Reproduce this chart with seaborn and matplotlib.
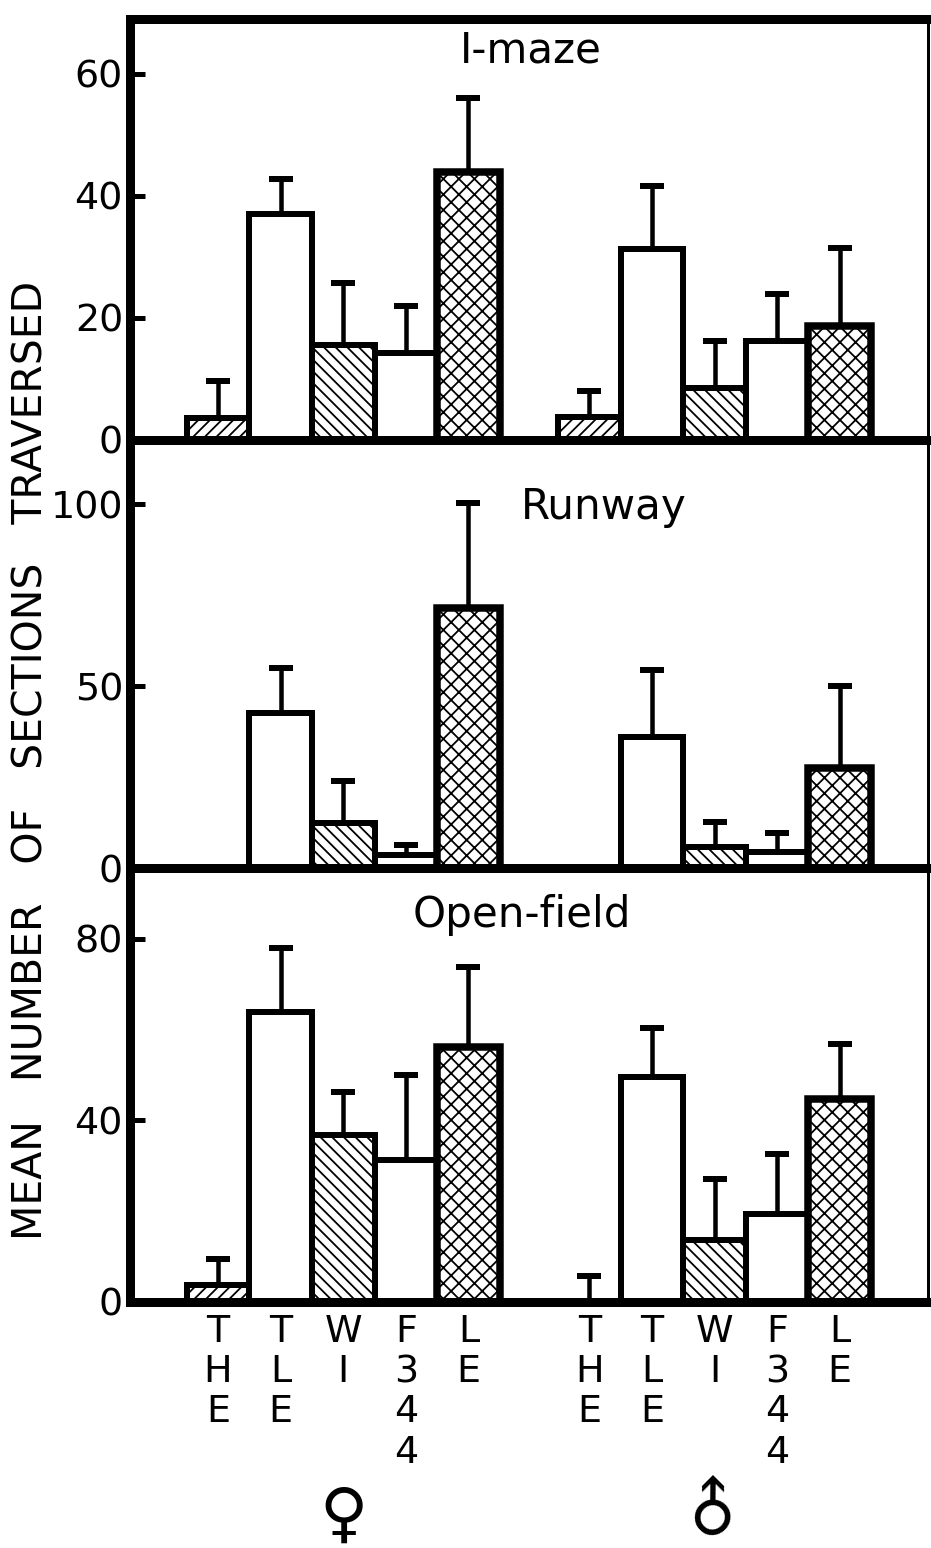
import numpy as np
import pandas as pd
import matplotlib
matplotlib.use("Agg")
import matplotlib.pyplot as plt
import seaborn as sns

# ---- data -------------------------------------------------------------
strains = ["THE", "TLE", "WI", "F344", "LE"]
sexes = ["♀", "♂"]
tests = ["I-maze", "Runway", "Open-field"]

# means and upper error (female strains first, then male strains)
imaze_mean = [3.6, 37.0, 15.6, 14.3, 44.0, 3.8, 31.3, 8.5, 16.2, 18.7]
imaze_err = [6.1, 5.8, 10.1, 7.7, 12.0, 4.2, 10.3, 7.7, 7.8, 12.8]
runway_mean = [0.0, 42.6, 12.4, 3.6, 71.4, 0.0, 36.0, 5.8, 4.4, 27.5]
runway_err = [0.0, 12.4, 11.6, 2.7, 28.9, 0.0, 18.4, 6.8, 5.2, 22.5]
openfield_mean = [3.7, 63.9, 36.8, 31.3, 56.2, 0.0, 49.6, 13.7, 19.4, 44.7]
openfield_err = [5.8, 14.1, 9.5, 18.7, 17.6, 5.7, 10.8, 13.3, 13.2, 12.1]

y_ticks = [[0, 20, 40, 60], [0, 50, 100], [0, 40, 80]]
y_tops = [69.0, 117.6, 95.6]

# ---- styling ----------------------------------------------------------
DPI = 140
W, H = 931, 1548


def px(n):
    """pixels -> points"""
    return n * 72.0 / DPI


sns.set_theme(style="white")
plt.rcParams["font.family"] = ["DejaVu Sans"]
plt.rcParams["hatch.linewidth"] = px(1.8)
plt.rcParams["hatch.color"] = "black"

hatches = {"THE": "////", "TLE": "", "WI": "\\\\\\\\", "F344": "", "LE": "xxx"}
FS = px(38)
TITLE_FS = px(42)

# bar positions: two groups of five adjacent bars
group_gap = 1.93
positions = np.concatenate([np.arange(5), np.arange(5) + 4 + group_gap])

fig = plt.figure(figsize=(W / DPI, H / DPI), dpi=DPI)
gs = fig.add_gridspec(3, 1, left=130 / W, right=928 / W,
                      top=1 - 19 / H, bottom=1 - 1302 / H,
                      height_ratios=[421, 428, 434], hspace=0)

series = [(imaze_mean, imaze_err), (runway_mean, runway_err),
          (openfield_mean, openfield_err)]
title_pos = [(0.502, 0.924), (0.594, 0.843), (0.491, 0.892)]

axes = []
for i, ((means, errs), test) in enumerate(zip(series, tests)):
    ax = fig.add_subplot(gs[i])
    axes.append(ax)
    df = pd.DataFrame({
        "pos": positions,
        "mean": means,
        "err": errs,
        "strain": strains * 2,
        "sex": [sexes[0]] * 5 + [sexes[1]] * 5,
    })
    sns.barplot(data=df, x="pos", y="mean", native_scale=True, width=1.0,
                color="white", saturation=1, edgecolor="black",
                linewidth=px(6), errorbar=None, ax=ax, zorder=1)

    # hatch and outline per strain
    for patch in ax.patches:
        cx = patch.get_x() + patch.get_width() / 2
        k = int(np.argmin(np.abs(positions - cx)))
        s = df["strain"].iloc[k]
        patch.set_hatch(hatches[s])
        if s == "LE":
            patch.set_linewidth(px(7.5))

    # one-sided (upper) error bars
    has_err = df["err"] > 0
    sub = df[has_err]
    ax.errorbar(sub["pos"], sub["mean"],
                yerr=[np.zeros(len(sub)), sub["err"]],
                fmt="none", ecolor="black", elinewidth=px(4.5),
                capsize=px(12), capthick=px(6), zorder=3)

    ax.set_xlim(-1.406, 11.34)
    ax.set_ylim(0, y_tops[i])
    ax.set_yticks(y_ticks[i])
    ax.set_yticklabels([str(t) for t in y_ticks[i]], fontsize=FS)
    ax.tick_params(axis="y", direction="in", length=px(15), width=px(5),
                   pad=px(7), colors="black", left=True)
    ax.set_xlabel("")
    ax.set_ylabel("")

    for side in ["left", "top", "bottom"]:
        ax.spines[side].set_linewidth(px(9))
        ax.spines[side].set_color("black")
    ax.spines["right"].set_linewidth(px(3))
    ax.spines["right"].set_color("black")

    tx, ty = title_pos[i]
    ax.text(tx, ty, test, transform=ax.transAxes, ha="center", va="center",
            fontsize=TITLE_FS, color="black")

    if i < 2:
        ax.set_xticks([])
    else:
        ax.set_xticks(positions)
        ax.set_xticklabels(["\n".join(s) for s in strains * 2],
                           fontsize=FS, linespacing=1.15, va="top")
        ax.tick_params(axis="x", length=0, pad=px(12), colors="black")
        trans = ax.get_xaxis_transform()
        ax.text(positions[2], -0.495, sexes[0], transform=trans,
                ha="center", va="center", fontsize=px(66), color="black")
        ax.text(positions[7], -0.475, sexes[1], transform=trans,
                ha="center", va="center", fontsize=px(64), color="black",
                rotation=45)

fig.text(32 / W, 1 - 760 / H, "MEAN   NUMBER   OF   SECTIONS   TRAVERSED",
         rotation=90, ha="center", va="center", fontsize=px(41),
         color="black")

fig.savefig("out.png", dpi=DPI, facecolor="white")
